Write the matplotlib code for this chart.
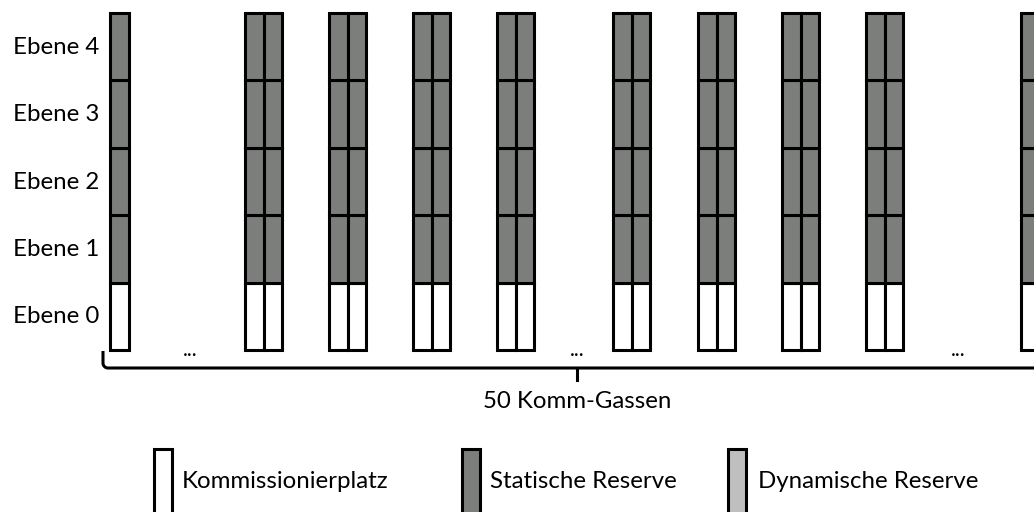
import numpy as np
import matplotlib.pyplot as plt

plt.rcParams["font.family"] = ["Lato", "DejaVu Sans"]

# ---- Daten ----
levels = ["Ebene 0", "Ebene 1", "Ebene 2", "Ebene 3", "Ebene 4"]
level_types = ["Kommissionierplatz", "Statische Reserve", "Statische Reserve",
               "Statische Reserve", "Statische Reserve"]
shelves_per_aisle = [1, 2, 2, 2, 2, 2, 2, 2, 2, 1]   # sichtbare Gassen
aisle_label = "50 Komm-Gassen"
legend_labels = ["Kommissionierplatz", "Statische Reserve", "Dynamische Reserve"]

# ---- Layout / Stil ----
COLORS = {"Kommissionierplatz": "white",
          "Statische Reserve": "#7c7e7b",
          "Dynamische Reserve": "#bfbfbf"}
aisle_left = [110, 245, 329, 413, 497, 613, 698, 782, 866, 1021]
shelf_w = 18.5
gap_dots_x = [190, 577, 958]
legend_box_x = [154, 462, 728]
legend_text_x = [182, 490, 758]
LW = 2.2
FS = 17.3

fig = plt.figure(figsize=(10.34, 5.12), dpi=100)
ax = fig.add_axes([0, 0, 1, 1])
px = 67.4  # pixel per Ebene
ax.set_xlim(0, 1034)
ax.set_ylim(-162 / px, 350 / px)
ax.axis("off")

def ypx(p):
    # Pixelzeile -> Datenkoordinate
    return (350 - p) / px

# Regale
for left, n in zip(aisle_left, shelves_per_aisle):
    xs = [left + shelf_w * (k + 0.5) for k in range(n)]
    for lvl, typ in enumerate(level_types):
        ax.bar(xs, [1] * n, width=shelf_w, bottom=lvl, color=COLORS[typ],
               edgecolor="black", linewidth=LW, zorder=2)

# Ebenen-Beschriftung
for lvl, name in enumerate(levels):
    ax.text(99, lvl + 0.49, name, ha="right", va="center", fontsize=FS)

# Auslassungspunkte
for x in gap_dots_x:
    ax.text(x, ypx(356), "...", ha="center", va="baseline", fontsize=FS - 2)

# Klammer
t = np.linspace(np.pi, 1.5 * np.pi, 20)
r = 5
bx = [103.0, 103.0] + list(103 + r + r * np.cos(t)) + [1040]
by = [351, 363] + list(363 - r * np.sin(t)) + [368]
ax.plot(bx, [ypx(v) for v in by], color="black", lw=LW, solid_capstyle="butt",
        clip_on=False)
ax.plot([577, 577], [ypx(368), ypx(380)], color="black", lw=LW)
ax.text(577, ypx(401), aisle_label, ha="center", va="center", fontsize=FS)

# Legende
for lab, bxl, tx in zip(legend_labels, legend_box_x, legend_text_x):
    ax.bar([bxl + 9], [ypx(449) - ypx(530)], width=18, bottom=ypx(530),
           color=COLORS[lab], edgecolor="black", linewidth=LW, zorder=2)
    ax.text(tx, ypx(481), lab, ha="left", va="center", fontsize=FS)

fig.savefig("out.png", dpi=100)
